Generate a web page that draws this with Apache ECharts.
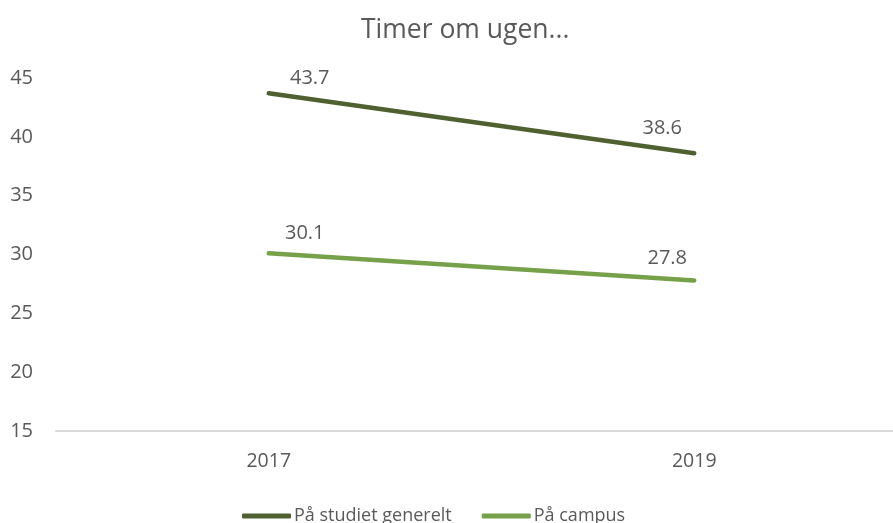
<!DOCTYPE html>
<html>
<head>
<meta charset="utf-8">
<script src="https://cdn.jsdelivr.net/npm/echarts@6/dist/echarts.min.js"></script>
<style>html,body{margin:0;padding:0;background:#fff}#c{width:893px;height:523px}</style>
</head>
<body>
<div id="c"></div>
<script>
const titleText = 'Timer om ugen...';
const categories = ['2017', '2019'];
const seriesNames = ['På studiet generelt', 'På campus'];
const studietValues = [43.7, 38.6];
const campusValues = [30.1, 27.8];
const yTicks = { min: 15, max: 45, interval: 5 };

const FONT = 'Open Sans';
const TXT = '#595959';
const colors = ['#4F6130', '#77A04A'];
const labelOffsets = [
  [[41, -15], [-32, -25]],
  [[36, -20], [-27, -22]]
];
function mkData(vals, si) {
  return vals.map((v, i) => ({
    value: v,
    label: { offset: labelOffsets[si][i] }
  }));
}
const chart = echarts.init(document.getElementById('c'), null, { renderer: 'canvas' });
const mkSeries = (name, vals, si) => ({
  name: name,
  type: 'line',
  data: mkData(vals, si),
  symbol: 'circle',
  symbolSize: 1,
  showSymbol: true,
  lineStyle: { color: colors[si], width: 4.5, cap: 'round' },
  itemStyle: { color: colors[si] },
  label: {
    show: true,
    position: 'inside',
    color: TXT,
    fontFamily: FONT,
    fontSize: 20,
    formatter: p => p.value.toFixed(1)
  },
  emphasis: { disabled: true },
  animation: false
});
chart.setOption({
  animation: false,
  title: {
    text: titleText,
    left: 356,
    top: 12,
    textStyle: { color: TXT, fontFamily: FONT, fontSize: 26.5, fontWeight: 'normal' }
  },
  legend: {
    left: 237,
    top: 502,
    itemWidth: 49,
    itemHeight: 5,
    itemGap: 30,
    icon: 'roundRect',
    textStyle: { color: TXT, fontFamily: FONT, fontSize: 18, padding: [0, 0, 0, -2] },
    data: seriesNames.map((n, i) => ({ name: n, itemStyle: { color: colors[i] } }))
  },
  grid: { left: 56, right: -14, top: 78, bottom: 92, containLabel: false, outerBoundsMode: 'none' },
  xAxis: {
    type: 'category',
    data: categories,
    boundaryGap: true,
    axisLine: { show: true, lineStyle: { color: '#D9D9D9', width: 2 } },
    axisTick: { show: false },
    axisLabel: { color: TXT, fontFamily: FONT, fontSize: 19.5, margin: 20 },
    splitLine: { show: false }
  },
  yAxis: {
    type: 'value',
    min: yTicks.min,
    max: yTicks.max,
    interval: yTicks.interval,
    axisLine: { show: false },
    axisTick: { show: false },
    splitLine: { show: false },
    axisLabel: { color: TXT, fontFamily: FONT, fontSize: 20, margin: 23 }
  },
  series: [
    mkSeries(seriesNames[0], studietValues, 0),
    mkSeries(seriesNames[1], campusValues, 1)
  ]
});
</script>
</body>
</html>
